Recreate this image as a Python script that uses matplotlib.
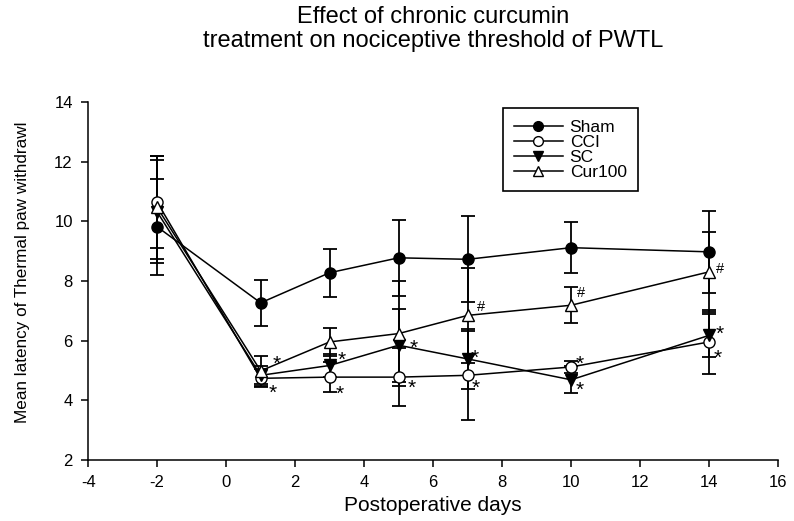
import matplotlib
matplotlib.use('Agg')
import matplotlib.pyplot as plt
from matplotlib.lines import Line2D

plt.rcParams['font.family'] = ['Liberation Sans', 'DejaVu Sans']
plt.rcParams['axes.unicode_minus'] = False

# data
days = [-2, 1, 3, 5, 7, 10, 14]

sham = [9.82, 7.27, 8.28, 8.78, 8.73, 9.12, 8.98]
sham_err = [1.6, 0.78, 0.8, 1.28, 1.44, 0.86, 1.37]

cci = [10.65, 4.74, 4.78, 4.78, 4.84, 5.12, 5.96]
cci_err = [1.55, 0.3, 0.5, 0.97, 1.5, 0.2, 1.07]

sc = [10.32, 4.84, 5.17, 5.85, 5.39, 4.69, 6.18]
sc_err = [1.73, 0.3, 0.4, 1.23, 1.0, 0.45, 0.71]

cur100 = [10.47, 4.99, 5.96, 6.24, 6.85, 7.19, 8.31]
cur100_err = [1.72, 0.5, 0.48, 1.75, 1.6, 0.6, 1.34]

# significance marks: series, day index, symbol
mark_series = ['cur100', 'cci', 'sc', 'cci', 'sc', 'cci',
               'cur100', 'sc', 'cci', 'cur100', 'cci', 'sc',
               'cur100', 'sc', 'cci']
mark_idx = [1, 1, 2, 2, 3, 3, 4, 4, 4, 5, 5, 5, 6, 6, 6]
mark_sym = ['*', '*', '*', '*', '*', '*', '#', '*', '*', '#', '*', '*', '#', '*', '*']
# where the mark sits next to its point (pixels, y up)
mark_off = [(16, 13), (12, -9), (12, 11), (10, -11), (15, 3), (13, -5),
            (13, 10), (7, 7), (8, -7), (10, 13), (9, 9), (9, -4),
            (11, 4), (11, 7), (9, -10)]

fig = plt.figure(figsize=(7.94, 5.21), dpi=100)
ax = fig.add_axes([0.111, 0.117, 0.869, 0.687])

series = {
    'sham': (sham, sham_err, 'o', 'black', 'Sham'),
    'cci': (cci, cci_err, 'o', 'white', 'CCI'),
    'sc': (sc, sc_err, 'v', 'black', 'SC'),
    'cur100': (cur100, cur100_err, '^', 'white', 'Cur100'),
}

handles = []
for key in ['sham', 'cci', 'sc', 'cur100']:
    vals, errs, mk, fc, lab = series[key]
    ax.errorbar(days, vals, yerr=errs, fmt='-', marker=mk, color='black',
                mfc=fc, mec='black', ms=8, lw=1.1, elinewidth=1.3,
                capsize=5, capthick=1.3)
    handles.append(Line2D([], [], color='black', lw=1.1, marker=mk, mfc=fc,
                          mec='black', ms=7, label=lab))

for key, i, sym, (dx, dy) in zip(mark_series, mark_idx, mark_sym, mark_off):
    vals = series[key][0]
    if sym == '*':
        fs, mid = 15, 8.5
    else:
        fs, mid = 10.5, 3.7
    ax.annotate(sym, (days[i], vals[i]), xytext=(dx * 0.72, dy * 0.72 - mid),
                textcoords='offset points', fontsize=fs,
                va='baseline', ha='center')

ax.set_xlim(-4, 16)
ax.set_ylim(2, 14)
ax.set_xticks(range(-4, 17, 2))
ax.set_yticks(range(2, 15, 2))
ax.spines['top'].set_visible(False)
ax.spines['right'].set_visible(False)
ax.spines['left'].set_linewidth(1.1)
ax.spines['bottom'].set_linewidth(1.1)
ax.tick_params(direction='out', length=5, width=1.1, labelsize=12, pad=6)

ax.set_xlabel('Postoperative days', fontsize=15, labelpad=4)
ax.set_ylabel('Mean latency of Thermal paw withdrawl', fontsize=12.3)
ax.yaxis.set_label_coords(-0.084, 0.525)

# title: va='baseline' anchors the last line here
fig.text(0.545, 0.91, 'Effect of chronic curcumin\ntreatment on nociceptive threshold of PWTL',
         fontsize=17, ha='center', va='baseline', linespacing=1.1)

leg = ax.legend(handles=handles, loc='upper left', bbox_to_anchor=(0.601, 0.983),
                borderaxespad=0, fontsize=12.5, fancybox=False,
                edgecolor='black', framealpha=1, handlelength=2.8,
                handletextpad=0.4, borderpad=0.65, labelspacing=0)
leg.get_frame().set_linewidth(1.2)

plt.savefig('out.png', dpi=100)
